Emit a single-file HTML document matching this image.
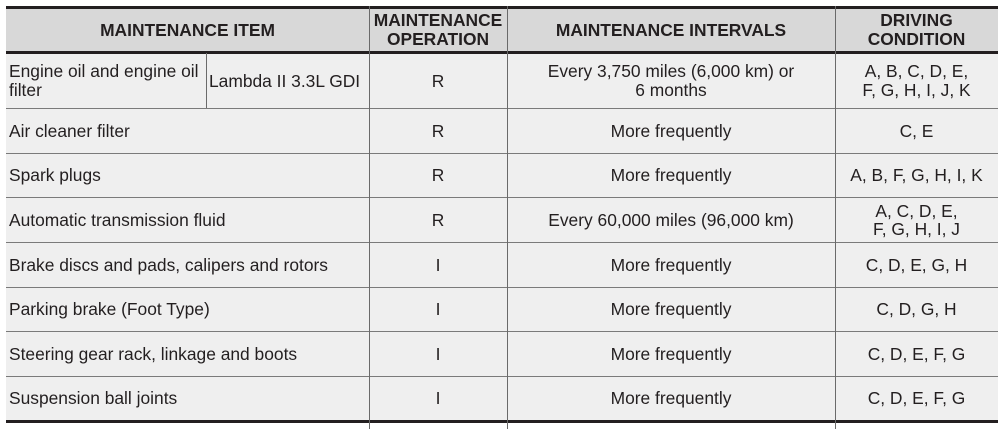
<!DOCTYPE html>
<html><head><style>
body{margin:0;width:1003px;height:429px;background:#fff;position:relative;overflow:hidden;font-family:"Liberation Sans",Arial,sans-serif;color:#231f20;font-size:17.4px}
.bg{position:absolute;left:6px;width:992px}
.h{position:absolute;height:1px;background:#7a7a7a;left:6px;width:992px}
.H{position:absolute;height:3px;background:#231f20;left:6px;width:992px}
.v{position:absolute;width:1px;background:#6a6a6a}
.t{position:absolute;display:flex;align-items:center;line-height:19px;white-space:nowrap}
.c{justify-content:center;text-align:center}
.b{font-weight:bold}
</style></head><body>
<div class="bg" style="top:7px;height:45px;background:#d8d8d8"></div>
<div class="bg" style="top:52px;height:369px;background:#efefef"></div>
<div class="H" style="top:6px"></div>
<div class="H" style="top:51px"></div>
<div class="H" style="top:420px"></div>
<div class="h" style="top:108px"></div>
<div class="h" style="top:153px"></div>
<div class="h" style="top:197px"></div>
<div class="h" style="top:242px"></div>
<div class="h" style="top:287px"></div>
<div class="h" style="top:331px"></div>
<div class="h" style="top:376px"></div>
<div class="v" style="left:206px;top:53px;height:55px"></div>
<div class="v" style="left:369px;top:6px;height:423px"></div>
<div class="v" style="left:507px;top:6px;height:423px"></div>
<div class="v" style="left:835px;top:6px;height:423px"></div>

<div class="t c b" style="left:6px;width:363px;top:9px;height:42px">MAINTENANCE ITEM</div>
<div class="t c b" style="left:369px;width:138px;top:9px;height:42px">MAINTENANCE<br>OPERATION</div>
<div class="t c b" style="left:507px;width:328px;top:9px;height:42px">MAINTENANCE INTERVALS</div>
<div class="t c b" style="left:835px;width:163px;top:9px;height:42px">DRIVING<br>CONDITION</div>

<div class="t" style="left:9px;width:195px;top:54px;height:54px">Engine oil and engine oil<br>filter</div>
<div class="t" style="left:209px;width:160px;top:54px;height:54px">Lambda II 3.3L GDI</div>
<div class="t c" style="left:369px;width:138px;top:54px;height:54px">R</div>
<div class="t c" style="left:507px;width:328px;top:54px;height:54px">Every 3,750 miles (6,000 km) or<br>6 months</div>
<div class="t c" style="left:835px;width:163px;top:54px;height:54px">A, B, C, D, E,<br>F, G, H, I, J, K</div>

<div class="t" style="left:9px;top:109px;height:44px">Air cleaner filter</div>
<div class="t c" style="left:369px;width:138px;top:109px;height:44px">R</div>
<div class="t c" style="left:507px;width:328px;top:109px;height:44px">More frequently</div>
<div class="t c" style="left:835px;width:163px;top:109px;height:44px">C, E</div>

<div class="t" style="left:9px;top:154px;height:43px">Spark plugs</div>
<div class="t c" style="left:369px;width:138px;top:154px;height:43px">R</div>
<div class="t c" style="left:507px;width:328px;top:154px;height:43px">More frequently</div>
<div class="t c" style="left:835px;width:163px;top:154px;height:43px">A, B, F, G, H, I, K</div>

<div class="t" style="left:9px;top:198px;height:44px">Automatic transmission fluid</div>
<div class="t c" style="left:369px;width:138px;top:198px;height:44px">R</div>
<div class="t c" style="left:507px;width:328px;top:198px;height:44px">Every 60,000 miles (96,000 km)</div>
<div class="t c" style="left:835px;width:163px;top:198px;height:44px;line-height:18px">A, C, D, E,<br>F, G, H, I, J</div>

<div class="t" style="left:9px;top:243px;height:44px">Brake discs and pads, calipers and rotors</div>
<div class="t c" style="left:369px;width:138px;top:243px;height:44px">I</div>
<div class="t c" style="left:507px;width:328px;top:243px;height:44px">More frequently</div>
<div class="t c" style="left:835px;width:163px;top:243px;height:44px">C, D, E, G, H</div>

<div class="t" style="left:9px;top:288px;height:43px">Parking brake (Foot Type)</div>
<div class="t c" style="left:369px;width:138px;top:288px;height:43px">I</div>
<div class="t c" style="left:507px;width:328px;top:288px;height:43px">More frequently</div>
<div class="t c" style="left:835px;width:163px;top:288px;height:43px">C, D, G, H</div>

<div class="t" style="left:9px;top:332px;height:44px">Steering gear rack, linkage and boots</div>
<div class="t c" style="left:369px;width:138px;top:332px;height:44px">I</div>
<div class="t c" style="left:507px;width:328px;top:332px;height:44px">More frequently</div>
<div class="t c" style="left:835px;width:163px;top:332px;height:44px">C, D, E, F, G</div>

<div class="t" style="left:9px;top:377px;height:43px">Suspension ball joints</div>
<div class="t c" style="left:369px;width:138px;top:377px;height:43px">I</div>
<div class="t c" style="left:507px;width:328px;top:377px;height:43px">More frequently</div>
<div class="t c" style="left:835px;width:163px;top:377px;height:43px">C, D, E, F, G</div>
</body></html>
